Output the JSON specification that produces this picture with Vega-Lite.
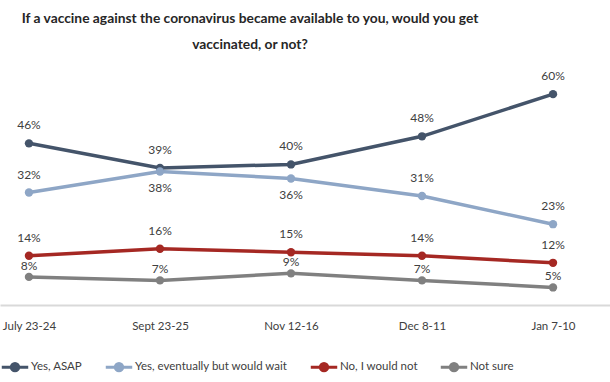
{
  "$schema": "https://vega.github.io/schema/vega-lite/v6.json",
  "autosize": "none",
  "width": 610,
  "height": 246,
  "padding": {"left": 0, "top": 59, "right": 0, "bottom": 77},
  "background": "white",
  "config": {"view": {"stroke": null}, "font": "Lato"},
  "title": {
    "text": ["If a vaccine against the coronavirus became available to you, would you get", "vaccinated, or not?"],
    "font": "Lato", "fontSize": 13.8, "fontWeight": "bold", "color": "#262626",
    "lineHeight": 26, "anchor": "middle", "dx": -55, "offset": 7
  },
  "data": {"values": [
    {"date": "July 23-24", "series": "Yes, ASAP", "pct": 0.46},
    {"date": "Sept 23-25", "series": "Yes, ASAP", "pct": 0.39},
    {"date": "Nov 12-16", "series": "Yes, ASAP", "pct": 0.40},
    {"date": "Dec 8-11", "series": "Yes, ASAP", "pct": 0.48},
    {"date": "Jan 7-10", "series": "Yes, ASAP", "pct": 0.60},
    {"date": "July 23-24", "series": "Yes, eventually but would wait", "pct": 0.32},
    {"date": "Sept 23-25", "series": "Yes, eventually but would wait", "pct": 0.38},
    {"date": "Nov 12-16", "series": "Yes, eventually but would wait", "pct": 0.36},
    {"date": "Dec 8-11", "series": "Yes, eventually but would wait", "pct": 0.31},
    {"date": "Jan 7-10", "series": "Yes, eventually but would wait", "pct": 0.23},
    {"date": "July 23-24", "series": "No, I would not", "pct": 0.14},
    {"date": "Sept 23-25", "series": "No, I would not", "pct": 0.16},
    {"date": "Nov 12-16", "series": "No, I would not", "pct": 0.15},
    {"date": "Dec 8-11", "series": "No, I would not", "pct": 0.14},
    {"date": "Jan 7-10", "series": "No, I would not", "pct": 0.12},
    {"date": "July 23-24", "series": "Not sure", "pct": 0.08},
    {"date": "Sept 23-25", "series": "Not sure", "pct": 0.07},
    {"date": "Nov 12-16", "series": "Not sure", "pct": 0.09},
    {"date": "Dec 8-11", "series": "Not sure", "pct": 0.07},
    {"date": "Jan 7-10", "series": "Not sure", "pct": 0.05}
  ]},
  "encoding": {
    "x": {
      "field": "date", "type": "ordinal", "sort": null,
      "scale": {"type": "point", "padding": 0.328, "align": 0.337},
      "axis": {"title": null, "ticks": false, "domainColor": "#D9D9D9", "domainWidth": 2,
               "labelFont": "Lato", "labelFontSize": 11.5, "labelColor": "#404040", "labelPadding": 15, "labelAngle": 0, "grid": false}
    },
    "y": {
      "field": "pct", "type": "quantitative",
      "scale": {"domain": [0, 0.7]},
      "axis": null
    },
    "color": {
      "field": "series", "type": "nominal",
      "scale": {
        "domain": ["Yes, ASAP", "Yes, eventually but would wait", "No, I would not", "Not sure"],
        "range": ["#44546A", "#8EA6C6", "#A52823", "#808080"]
      },
      "legend": null
    }
  },
  "layer": [
    {
      "mark": {"type": "line", "strokeWidth": 3.5, "point": {"size": 70, "filled": true}},
      "encoding": {
        "color": {
          "field": "series", "type": "nominal",
          "legend": {
            "title": null, "orient": "bottom", "direction": "horizontal", "offset": 20,
            "symbolType": "M-1,0L1,0M-0.28,0a0.28,0.28 0 1,0 0.56,0a0.28,0.28 0 1,0 -0.56,0",
            "symbolSize": 700, "symbolStrokeWidth": 3, "labelFont": "Lato", "labelFontSize": 11.5,
            "labelColor": "#404040", "labelLimit": 0, "columnPadding": 16, "labelOffset": 1,
            "encode": {"symbols": {"update": {"fill": {"scale": "color", "field": "value"}, "fillOpacity": {"value": 1}}}}
          }
        }
      }
    },
    {
      "transform": [{"filter": "datum.series != 'Not sure' && !(datum.series == 'Yes, eventually but would wait' && (datum.date == 'Sept 23-25' || datum.date == 'Nov 12-16'))"}],
      "mark": {"type": "text", "dy": -18, "fontSize": 12, "font": "Lato"},
      "encoding": {"text": {"field": "pct", "type": "quantitative", "format": ".0%"}, "color": {"value": "#404040"}}
    },
    {
      "transform": [{"filter": "datum.series == 'Yes, eventually but would wait' && (datum.date == 'Sept 23-25' || datum.date == 'Nov 12-16')"}],
      "mark": {"type": "text", "dy": 17, "fontSize": 12, "font": "Lato"},
      "encoding": {"text": {"field": "pct", "type": "quantitative", "format": ".0%"}, "color": {"value": "#404040"}}
    },
    {
      "transform": [{"filter": "datum.series == 'Not sure'"}],
      "mark": {"type": "text", "dy": -11, "fontSize": 12, "font": "Lato"},
      "encoding": {"text": {"field": "pct", "type": "quantitative", "format": ".0%"}, "color": {"value": "#404040"}}
    }
  ]
}
